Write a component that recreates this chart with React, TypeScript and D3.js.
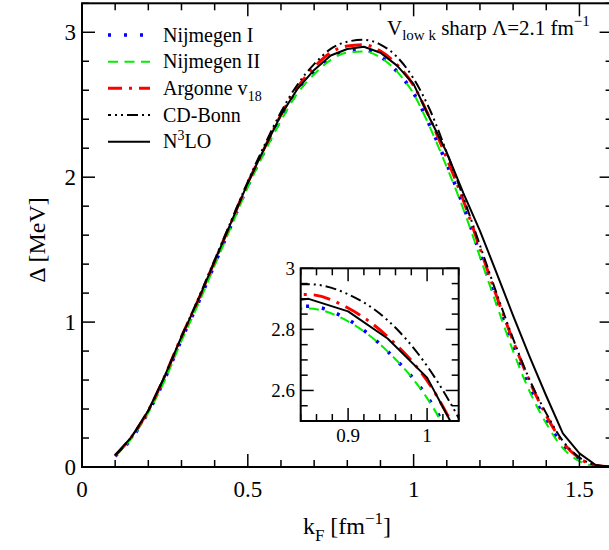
import React from 'react';
import * as d3 from 'd3';

// ---------- data ----------
const kF = [0.10, 0.15, 0.20, 0.25, 0.30, 0.35, 0.40, 0.45, 0.50, 0.55, 0.60, 0.65, 0.70, 0.75, 0.80, 0.85, 0.90, 0.95, 1.00, 1.05, 1.10, 1.15, 1.20, 1.25, 1.30, 1.35, 1.40, 1.45, 1.50, 1.55, 1.60];
const nijmegenI = [0.075, 0.20, 0.38, 0.61, 0.88, 1.13, 1.40, 1.67, 1.94, 2.18, 2.40, 2.59, 2.72, 2.82, 2.868, 2.876, 2.832, 2.728, 2.58, 2.35, 2.09, 1.80, 1.47, 1.14, 0.83, 0.545, 0.32, 0.15, 0.048, 0.008, 0.0];
const nijmegenII = [0.075, 0.20, 0.375, 0.60, 0.87, 1.12, 1.39, 1.66, 1.93, 2.17, 2.39, 2.58, 2.71, 2.81, 2.86, 2.868, 2.826, 2.728, 2.575, 2.34, 2.07, 1.78, 1.45, 1.12, 0.80, 0.52, 0.30, 0.13, 0.04, 0.005, 0.0];
const argonne = [0.08, 0.21, 0.39, 0.63, 0.90, 1.15, 1.42, 1.69, 1.96, 2.20, 2.43, 2.62, 2.76, 2.86, 2.905, 2.914, 2.87, 2.776, 2.632, 2.40, 2.13, 1.84, 1.51, 1.18, 0.87, 0.59, 0.355, 0.17, 0.06, 0.01, 0.0];
const cdBonn = [0.08, 0.21, 0.39, 0.63, 0.90, 1.16, 1.43, 1.70, 1.97, 2.22, 2.45, 2.64, 2.78, 2.885, 2.935, 2.948, 2.915, 2.83, 2.68, 2.46, 2.17, 1.86, 1.53, 1.20, 0.885, 0.60, 0.37, 0.18, 0.065, 0.012, 0.0];
const n3lo = [0.08, 0.21, 0.39, 0.63, 0.90, 1.15, 1.42, 1.69, 1.96, 2.20, 2.43, 2.61, 2.74, 2.84, 2.885, 2.90, 2.859, 2.77, 2.642, 2.40, 2.17, 1.89, 1.63, 1.34, 1.045, 0.76, 0.49, 0.232, 0.094, 0.012, 0.0];

const seriesNames = ['Nijmegen I', 'Nijmegen II', 'Argonne v18', 'CD-Bonn', 'N3LO'];
const seriesValues = [nijmegenI, nijmegenII, argonne, cdBonn, n3lo];

const mainXDomain = [0, 1.6];
const mainYDomain = [0, 3.2];
const insetXDomain = [0.84, 1.04];
const insetYDomain = [2.5, 3.0];

// ---------- styles ----------
const FONT = 'Liberation Serif, DejaVu Serif, serif';
const styles = [
  { color: '#0000ff', dash: '3,13', width: 3.5, smooth: true },
  { color: '#00ee00', dash: '10,6.5', width: 2, smooth: true },
  { color: '#ff0000', dash: '17,7,3,7', width: 3, smooth: true },
  { color: '#000000', dash: '11,4,2,4,2,4', width: 2, smooth: true },
  { color: '#000000', dash: null as string | null, width: 2, smooth: false },
];

function fmt(v: number) {
  return String(+v.toFixed(3));
}

function LegendLabel({ i }: { i: number }) {
  if (i === 2) return (<>Argonne v<tspan fontSize={14} dy={6}>18</tspan></>);
  if (i === 4) return (<>N<tspan fontSize={14} dy={-8}>3</tspan><tspan dy={8}>LO</tspan></>);
  return <>{seriesNames[i]}</>;
}

export default function App() {
  const x = d3.scaleLinear().domain(mainXDomain).range([82, 612.6]);
  const y = d3.scaleLinear().domain(mainYDomain).range([467, 3.3]);
  const ix = d3.scaleLinear().domain(insetXDomain).range([300.7, 458.7]);
  const iy = d3.scaleLinear().domain(insetYDomain).range([421, 268.3]);

  const data = seriesValues.map((vals) => kF.map((k, j) => [k, vals[j]] as [number, number]));

  const makeLine = (sx: any, sy: any, smooth: boolean) => {
    const l = d3.line<[number, number]>().x((d) => sx(d[0])).y((d) => sy(d[1]));
    return smooth ? l.curve(d3.curveMonotoneX) : l;
  };

  const [x0, x1] = x.range();
  const [y0, y1] = y.range();
  const [ix0, ix1] = ix.range();
  const [iy0, iy1] = iy.range();

  const xMajor = x.ticks(4);
  const xMinor = x.ticks(16).filter((t) => !xMajor.some((m) => Math.abs(m - t) < 1e-9));
  const yMajor = y.ticks(4);
  const yMinor = y.ticks(16).filter((t) => !yMajor.some((m) => Math.abs(m - t) < 1e-9));

  const ixMajor = ix.ticks(2);
  const ixMinor = ix.ticks(10).filter((t) => !ixMajor.some((m) => Math.abs(m - t) < 1e-9));
  const iyMajor = iy.ticks(3);
  const iyMinor = iy.ticks(10).filter((t) => !iyMajor.some((m) => Math.abs(m - t) < 1e-9));

  const MAJ = 13, MIN = 7;
  const tickStroke = 1.5;

  const legendY = [35, 61.7, 88.3, 115, 141.7];
  const tf = { fontFamily: FONT };

  return (
    <svg width={609} height={550} style={{ position: 'absolute', left: 0, top: 0, background: '#fff', fontFamily: FONT }}>
      <defs>
        <clipPath id="mainClip"><rect x={x0} y={y1} width={x1 - x0} height={y0 - y1} /></clipPath>
        <clipPath id="insetClip"><rect x={ix0} y={iy1} width={ix1 - ix0} height={iy0 - iy1} /></clipPath>
      </defs>
      <rect x={0} y={0} width={609} height={550} fill="#fff" />

      {/* main curves */}
      <g clipPath="url(#mainClip)">
        {data.map((d, i) => (
          <path key={i} d={makeLine(x, y, styles[i].smooth)(d) || ''} fill="none" stroke={styles[i].color}
            strokeWidth={styles[i].width} strokeDasharray={styles[i].dash || undefined} strokeLinejoin="round" />
        ))}
      </g>

      {/* main ticks */}
      <g stroke="#000" strokeWidth={tickStroke}>
        {xMajor.map((t) => (
          <g key={'xM' + t}>
            <line x1={x(t)} x2={x(t)} y1={y0} y2={y0 - MAJ} />
            <line x1={x(t)} x2={x(t)} y1={y1} y2={y1 + MAJ} />
          </g>
        ))}
        {xMinor.map((t) => (
          <g key={'xm' + t}>
            <line x1={x(t)} x2={x(t)} y1={y0} y2={y0 - MIN} />
            <line x1={x(t)} x2={x(t)} y1={y1} y2={y1 + MIN} />
          </g>
        ))}
        {yMajor.map((t) => (
          <g key={'yM' + t}>
            <line x1={x0} x2={x0 + MAJ} y1={y(t)} y2={y(t)} />
            <line x1={x1} x2={x1 - MAJ} y1={y(t)} y2={y(t)} />
          </g>
        ))}
        {yMinor.map((t) => (
          <g key={'ym' + t}>
            <line x1={x0} x2={x0 + MIN} y1={y(t)} y2={y(t)} />
            <line x1={x1} x2={x1 - MIN} y1={y(t)} y2={y(t)} />
          </g>
        ))}
      </g>
      <rect x={x0} y={y1} width={x1 - x0} height={y0 - y1} fill="none" stroke="#000" strokeWidth={2} />

      {/* main tick labels */}
      <g fontSize={23} fill="#000" style={tf}>
        {xMajor.map((t) => (
          <text key={'xl' + t} x={x(t)} y={497} textAnchor="middle" style={tf}>{fmt(t)}</text>
        ))}
        {yMajor.map((t) => (
          <text key={'yl' + t} x={76} y={y(t) + 8} textAnchor="end" style={tf}>{fmt(t)}</text>
        ))}
      </g>

      {/* axis titles */}
      <text x={347} y={534} textAnchor="middle" fontSize={24} style={tf}>
        k<tspan fontSize={17} dy={7}>F</tspan><tspan dy={-7}> [fm</tspan><tspan fontSize={17} dy={-10}>−1</tspan><tspan dy={10}>]</tspan>
      </text>
      <text transform="translate(45,240) rotate(-90)" textAnchor="middle" fontSize={24} style={tf}>Δ [MeV]</text>

      {/* legend */}
      {styles.map((s, i) => (
        <g key={'lg' + i}>
          <line x1={108} x2={150} y1={legendY[i]} y2={legendY[i]} stroke={s.color} strokeWidth={s.width}
            strokeDasharray={s.dash || undefined} strokeDashoffset={i === 2 ? -31 : i === 3 ? -19 : 0} />
          <text x={163} y={legendY[i] + 6.5} fontSize={20} style={tf}><LegendLabel i={i} /></text>
        </g>
      ))}

      {/* title */}
      <text x={387} y={35} fontSize={21} style={tf}>
        V<tspan fontSize={15} dy={5}>low k</tspan><tspan dy={-5}> sharp Λ=2.1 fm</tspan><tspan fontSize={15} dy={-9}>−1</tspan>
      </text>

      {/* inset */}
      <rect x={ix0} y={iy1} width={ix1 - ix0} height={iy0 - iy1} fill="#fff" />
      <g clipPath="url(#insetClip)">
        {data.map((d, i) => (
          <path key={'in' + i} d={makeLine(ix, iy, styles[i].smooth)(d) || ''} fill="none" stroke={styles[i].color}
            strokeWidth={styles[i].width} strokeDasharray={styles[i].dash || undefined} strokeLinejoin="round" />
        ))}
      </g>
      <g stroke="#000" strokeWidth={tickStroke}>
        {ixMajor.map((t) => (
          <g key={'ixM' + t}>
            <line x1={ix(t)} x2={ix(t)} y1={iy0} y2={iy0 - MAJ} />
            <line x1={ix(t)} x2={ix(t)} y1={iy1} y2={iy1 + MAJ} />
          </g>
        ))}
        {ixMinor.map((t) => (
          <g key={'ixm' + t}>
            <line x1={ix(t)} x2={ix(t)} y1={iy0} y2={iy0 - MIN} />
            <line x1={ix(t)} x2={ix(t)} y1={iy1} y2={iy1 + MIN} />
          </g>
        ))}
        {iyMajor.map((t) => (
          <g key={'iyM' + t}>
            <line x1={ix0} x2={ix0 + MAJ} y1={iy(t)} y2={iy(t)} />
            <line x1={ix1} x2={ix1 - MAJ} y1={iy(t)} y2={iy(t)} />
          </g>
        ))}
        {iyMinor.map((t) => (
          <g key={'iym' + t}>
            <line x1={ix0} x2={ix0 + MIN} y1={iy(t)} y2={iy(t)} />
            <line x1={ix1} x2={ix1 - MIN} y1={iy(t)} y2={iy(t)} />
          </g>
        ))}
      </g>
      <rect x={ix0} y={iy1} width={ix1 - ix0} height={iy0 - iy1} fill="none" stroke="#000" strokeWidth={2} />
      <g fontSize={19} fill="#000" style={tf}>
        {ixMajor.map((t) => (
          <text key={'ixl' + t} x={ix(t)} y={442} textAnchor="middle" style={tf}>{fmt(t)}</text>
        ))}
        {iyMajor.map((t) => (
          <text key={'iyl' + t} x={295} y={iy(t) + 7} textAnchor="end" style={tf}>{fmt(t)}</text>
        ))}
      </g>
    </svg>
  );
}
